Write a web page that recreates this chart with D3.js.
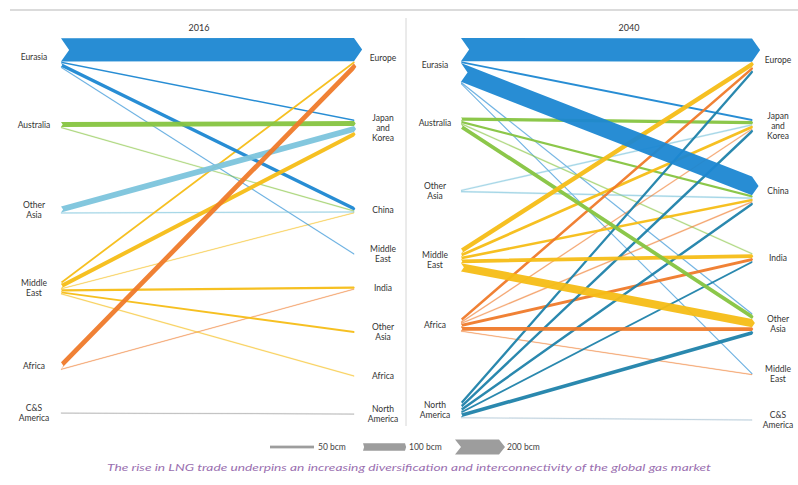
<!DOCTYPE html>
<html><head><meta charset="utf-8">
<script src="https://cdn.jsdelivr.net/npm/d3@7"></script>
<style>
html,body{margin:0;padding:0;background:#fff;}
svg{display:block;}
text{font-family:Lato,"Liberation Sans",sans-serif;}
</style></head>
<body>
<svg id="chart" width="798" height="485"></svg>
<script>
// ---------------- DATA ----------------
const panelTitles = ["2016", "2040"];

const sources2016 = ["Eurasia", "Australia", "Other Asia", "Middle East", "Africa", "C&S America"];
const targets2016 = ["Europe", "Japan and Korea", "China", "Middle East", "India", "Other Asia", "Africa", "North America"];
// [exporter, importer, bcm]
const flows2016 = [
  ["Eurasia", "Europe", 310],
  ["Eurasia", "Japan and Korea", 20],
  ["Eurasia", "China", 50],
  ["Eurasia", "Middle East", 12],
  ["Australia", "Japan and Korea", 65],
  ["Australia", "China", 12],
  ["Other Asia", "Japan and Korea", 80],
  ["Other Asia", "China", 12],
  ["Middle East", "Europe", 30],
  ["Middle East", "Japan and Korea", 60],
  ["Middle East", "China", 10],
  ["Middle East", "India", 30],
  ["Middle East", "Other Asia", 25],
  ["Middle East", "Africa", 12],
  ["Africa", "Europe", 90],
  ["Africa", "India", 10],
  ["C&S America", "North America", 10]
];

const sources2040 = ["Eurasia", "Australia", "Other Asia", "Middle East", "Africa", "North America"];
const targets2040 = ["Europe", "Japan and Korea", "China", "India", "Other Asia", "Middle East", "C&S America"];
const flows2040 = [
  ["Eurasia", "Europe", 310],
  ["Eurasia", "Japan and Korea", 25],
  ["Eurasia", "China", 250],
  ["Eurasia", "Other Asia", 15],
  ["Eurasia", "Middle East", 15],
  ["Australia", "Japan and Korea", 45],
  ["Australia", "China", 30],
  ["Australia", "India", 15],
  ["Australia", "Other Asia", 60],
  ["Other Asia", "Japan and Korea", 15],
  ["Other Asia", "China", 15],
  ["Middle East", "Europe", 70],
  ["Middle East", "Japan and Korea", 40],
  ["Middle East", "China", 35],
  ["Middle East", "India", 50],
  ["Middle East", "Other Asia", 110],
  ["Africa", "Europe", 45],
  ["Africa", "Japan and Korea", 15],
  ["Africa", "China", 15],
  ["Africa", "India", 40],
  ["Africa", "Other Asia", 50],
  ["Africa", "Middle East", 10],
  ["North America", "Europe", 45],
  ["North America", "Japan and Korea", 45],
  ["North America", "China", 40],
  ["North America", "India", 25],
  ["North America", "Other Asia", 50],
  ["North America", "C&S America", 12]
];

const legendValues = [50, 100, 200];
const legendLabels = ["50 bcm", "100 bcm", "200 bcm"];
const captionText = "The rise in LNG trade underpins an increasing diversification and interconnectivity of the global gas market";

// ---------------- LAYOUT / STYLE ----------------
const exporterColor = {
  "Eurasia": "#1c87d2",
  "Australia": "#86c440",
  "Other Asia": "#7cc4dc",
  "Middle East": "#f6bd16",
  "Africa": "#ef7a2a",
  "C&S America": "#9a9a9a",
  "North America": "#1f82aa"
};
const layout = [
  { title: panelTitles[0], sources: sources2016, targets: targets2016, flows: flows2016,
    x0: 61, x1: 354, titleX: 199, srcLabelX: 34, tgtLabelX: 383,
    srcY: [53, 125, 210, 288, 366, 413],
    tgtY: [54, 128, 210, 254, 288, 332, 376, 414] },
  { title: panelTitles[1], sources: sources2040, targets: targets2040, flows: flows2040,
    x0: 461, x1: 752, titleX: 629, srcLabelX: 435, tgtLabelX: 778,
    srcY: [61, 123, 191, 260, 325, 410],
    tgtY: [56, 126, 191, 258, 324, 374, 420] }
];
const labelLines = {
  "Japan and Korea": ["Japan", "and", "Korea"],
  "Other Asia": ["Other", "Asia"],
  "Middle East": ["Middle", "East"],
  "C&S America": ["C&S", "America"],
  "North America": ["North", "America"]
};

const svg = d3.select("#chart");
const w = d3.scaleLinear().domain([0, 200]).range([0, 15]);

// top rule and divider
svg.append("line").attr("x1", 10).attr("x2", 798).attr("y1", 10).attr("y2", 10)
  .attr("stroke", "#cfcfcf").attr("stroke-width", 1.5);
svg.append("line").attr("x1", 406).attr("x2", 406).attr("y1", 18).attr("y2", 426)
  .attr("stroke", "#d6d6d6").attr("stroke-width", 1);

function bandPath(x0, x1, sTop, tTop, h) {
  const n = h * 0.35, p = h * 0.35;
  return d3.line()([
    [x0, sTop], [x1, tTop], [x1 + p, tTop + h / 2], [x1, tTop + h],
    [x0, sTop + h], [x0 + n, sTop + h / 2]
  ]) + "Z";
}

function addLabel(g, name, x, y) {
  const lines = labelLines[name] || [name];
  const lh = 10;
  const t = g.append("text").attr("x", x).attr("text-anchor", "middle")
    .attr("font-size", 8.5).attr("fill", "#333");
  lines.forEach((l, i) => {
    t.append("tspan").attr("x", x)
      .attr("y", y + (i - (lines.length - 1) / 2) * lh + 3).text(l);
  });
}

layout.forEach(P => {
  const g = svg.append("g");
  const ySrc = d3.scaleOrdinal().domain(P.sources).range(P.srcY);
  const yTgt = d3.scaleOrdinal().domain(P.targets).range(P.tgtY);
  const flows = P.flows.map(f => ({ s: f[0], t: f[1], v: f[2], h: w(f[2]) }));

  // stack at sources (ordered by importer position)
  P.sources.forEach(s => {
    const fs = flows.filter(f => f.s === s).sort((a, b) => yTgt(a.t) - yTgt(b.t));
    const tot = d3.sum(fs, f => f.h);
    let y = ySrc(s) - tot / 2;
    fs.forEach(f => { f.sy = y; y += f.h; });
  });
  // stack at targets (ordered by exporter position)
  P.targets.forEach(t => {
    const fs = flows.filter(f => f.t === t).sort((a, b) => ySrc(a.s) - ySrc(b.s));
    const tot = d3.sum(fs, f => f.h);
    let y = yTgt(t) - tot / 2;
    fs.forEach(f => { f.ty = y; y += f.h; });
  });

  const drawOrder = flows.slice().sort((a, b) => a.v - b.v);
  g.selectAll("path.flow").data(drawOrder).join("path")
    .attr("class", "flow")
    .attr("d", f => bandPath(P.x0, P.x1, f.sy, f.ty, f.h))
    .attr("fill", f => (f.s === "North America" && f.t === "C&S America") ? "#a9c2d2" : exporterColor[f.s])
    .attr("fill-opacity", f => f.v < 20 ? 0.6 : 0.95)
    .attr("stroke", f => (f.s === "North America" && f.t === "C&S America") ? "#a9c2d2" : exporterColor[f.s])
    .attr("stroke-opacity", f => f.v < 20 ? 0.5 : 0)
    .attr("stroke-width", 0.4);

  g.append("text").attr("x", P.titleX).attr("y", 31).attr("text-anchor", "middle")
    .attr("font-size", 9).attr("fill", "#333").text(P.title);

  P.sources.forEach(s => addLabel(g, s, P.srcLabelX, ySrc(s) + (s === "Eurasia" ? 4 : 0)));
  P.targets.forEach(t => addLabel(g, t, P.tgtLabelX, yTgt(t) + (t === "Europe" ? 4 : 0)));
});

// legend
const legend = svg.append("g");
const lx = [270, 363, 455];
const lLen = [44, 42, 44];
const tx = [318, 409, 507];
legendValues.forEach((v, i) => {
  const h = w(v), y = 447;
  if (i === 0) {
    legend.append("rect").attr("x", lx[i]).attr("y", y - h / 2 + 0.5).attr("width", lLen[i]).attr("height", h - 1)
      .attr("fill", "#9d9d9d");
  } else {
    const n = i === 2 ? h * 0.4 : h * 0.15;
    legend.append("path").attr("d", d3.line()([
      [lx[i], y - h / 2], [lx[i] + lLen[i], y - h / 2], [lx[i] + lLen[i] + n, y], [lx[i] + lLen[i], y + h / 2],
      [lx[i], y + h / 2], [lx[i] + n, y]
    ]) + "Z").attr("fill", "#9d9d9d");
  }
  legend.append("text").attr("x", tx[i]).attr("y", y + 3).attr("font-size", 8.5)
    .attr("fill", "#444").text(legendLabels[i]);
});

// caption
svg.append("text").attr("x", 409).attr("y", 471).attr("text-anchor", "middle")
  .attr("font-size", 10).attr("font-style", "italic").attr("fill", "#9a6fb0")
  .attr("textLength", 604).attr("lengthAdjust", "spacingAndGlyphs")
  .text(captionText);
</script>
</body></html>
